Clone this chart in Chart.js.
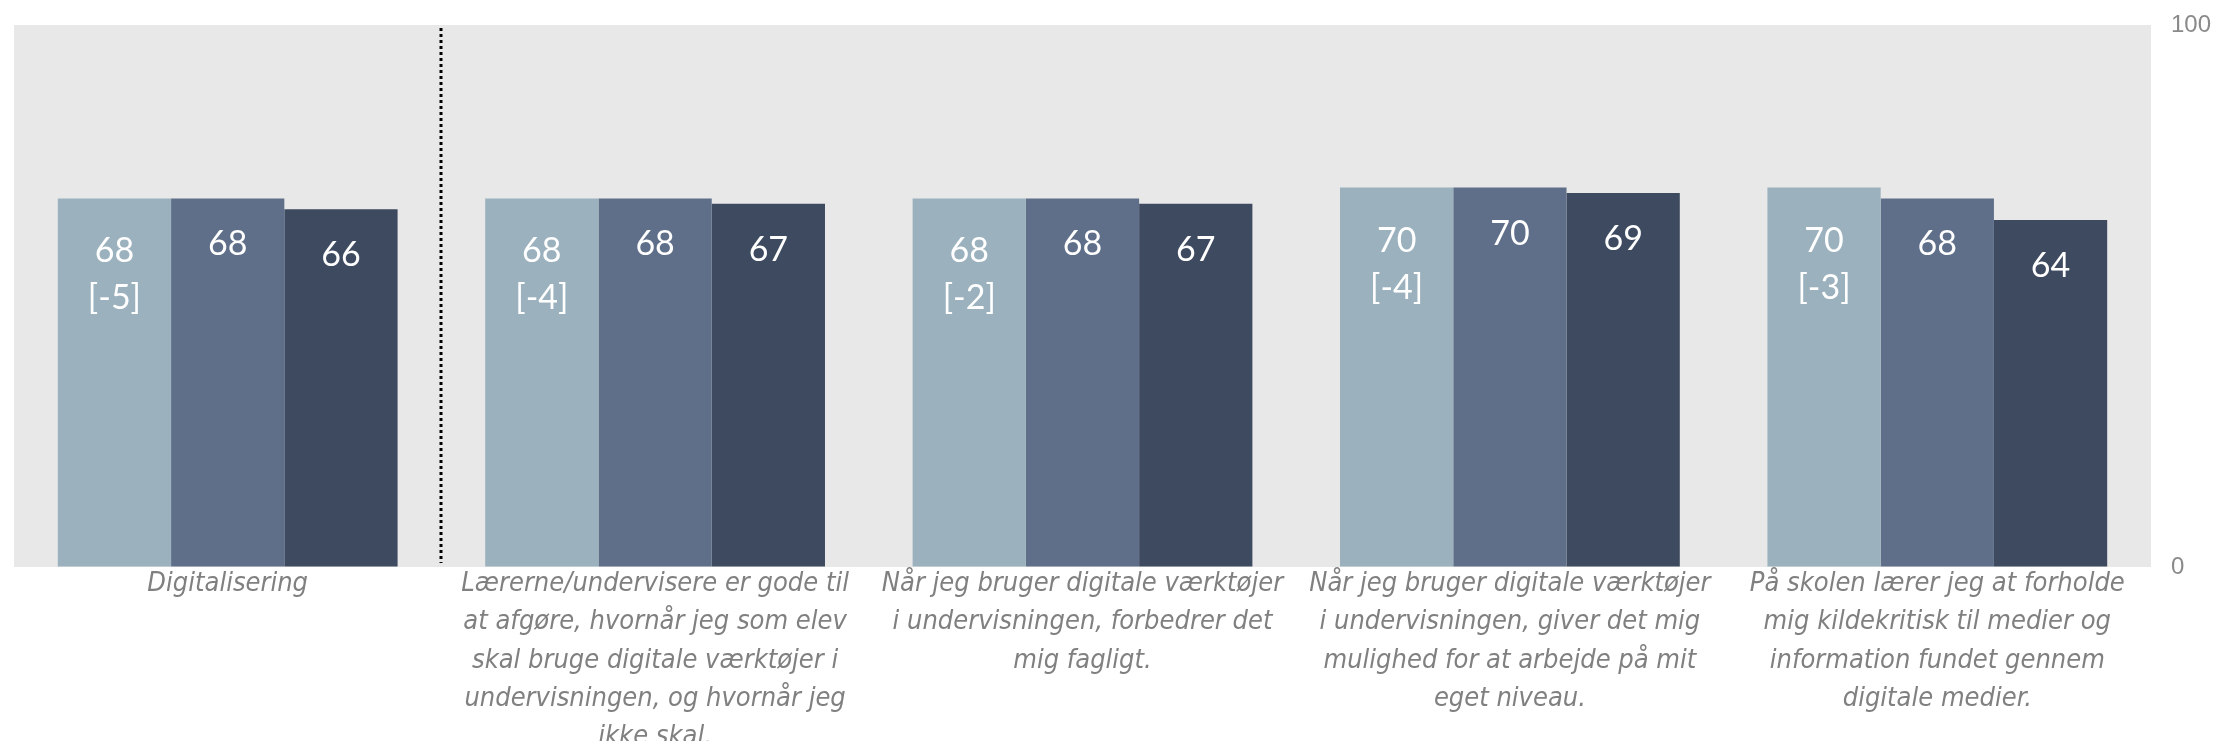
<!DOCTYPE html>
<html lang="da">
<head>
<meta charset="utf-8">
<script src="https://cdn.jsdelivr.net/npm/chart.js@4/dist/chart.umd.min.js"></script>
<style>
  html, body { margin: 0; padding: 0; background: #fff; }
  #wrap { width: 2216px; height: 741px; }
</style>
</head>
<body>
<div id="wrap"><canvas id="bar-chart"></canvas></div>
<script>
// Kategorier (spørgsmål), delt op i linjer
const kategorier = [
    ['Digitalisering'],
    ['Lærerne/undervisere er gode til', 'at afgøre, hvornår jeg som elev', 'skal bruge digitale værktøjer i', 'undervisningen, og hvornår jeg', 'ikke skal.'],
    ['Når jeg bruger digitale værktøjer', 'i undervisningen, forbedrer det', 'mig fagligt.'],
    ['Når jeg bruger digitale værktøjer', 'i undervisningen, giver det mig', 'mulighed for at arbejde på mit', 'eget niveau.'],
    ['På skolen lærer jeg at forholde', 'mig kildekritisk til medier og', 'information fundet gennem', 'digitale medier.']
];

const serie1 = [68, 68, 68, 70, 70];
const serie2 = [68, 68, 68, 70, 68];
const serie3 = [66, 67, 67, 69, 64];
const forskel = [-5, -4, -2, -4, -3];   // vises under første søjle

const yTicks = [0, 100];

const farver = ['#9bb2be', '#5f6f8a', '#3d4a5f'];

// Grå baggrund og stiplet skillelinje efter første kategori
const baggrund = {
    id: 'baggrund',
    beforeDatasetsDraw(chart) {
        const { ctx, chartArea: a, scales } = chart;
        ctx.save();
        ctx.fillStyle = '#e8e8e8';
        ctx.fillRect(a.left, a.top, a.right - a.left, a.bottom - a.top);
        const x = Math.round((scales.x.getPixelForValue(0) + scales.x.getPixelForValue(1)) / 2);
        ctx.strokeStyle = '#000';
        ctx.lineWidth = 3;
        ctx.setLineDash([3, 3]);
        ctx.beginPath();
        ctx.moveTo(x, a.top + 3);
        ctx.lineTo(x, a.bottom - 4);
        ctx.stroke();
        ctx.restore();
    }
};

// Værdier skrevet inde i søjlerne
const vaerdier = {
    id: 'vaerdier',
    afterDatasetsDraw(chart) {
        const ctx = chart.ctx;
        ctx.save();
        ctx.fillStyle = '#ffffff';
        ctx.font = '34px Lato, sans-serif';
        ctx.textAlign = 'center';
        ctx.textBaseline = 'middle';
        chart.data.datasets.forEach((ds, i) => {
            chart.getDatasetMeta(i).data.forEach((bar, j) => {
                if (i === 0) {
                    ctx.fillText(ds.data[j], bar.x, bar.y + 53);
                    ctx.fillText('[' + forskel[j] + ']', bar.x, bar.y + 100);
                } else {
                    ctx.fillText(ds.data[j], bar.x, bar.y + 46);
                }
            });
        });
        ctx.restore();
    }
};

const ctx = document.getElementById('bar-chart').getContext('2d');
new Chart(ctx, {
    type: 'bar',
    data: {
        labels: kategorier,
        datasets: [
            { label: 'Serie 1', data: serie1, backgroundColor: farver[0] },
            { label: 'Serie 2', data: serie2, backgroundColor: farver[1] },
            { label: 'Serie 3', data: serie3, backgroundColor: farver[2] }
        ]
    },
    options: {
        responsive: true,
        maintainAspectRatio: false,
        animation: false,
        layout: { padding: { left: 14, top: 25, right: 0, bottom: 0 } },
        datasets: {
            bar: { categoryPercentage: 0.795, barPercentage: 1 }
        },
        plugins: {
            legend: { display: false },
            tooltip: { enabled: false }
        },
        scales: {
            x: {
                grid: { display: false, drawTicks: false },
                border: { display: false },
                ticks: {
                    color: '#808080',
                    padding: -2,
                    maxRotation: 0,
                    autoSkip: false,
                    font: { family: "'DejaVu Sans Condensed', sans-serif", style: 'italic', size: 27, lineHeight: 1.415 }
                },
                afterFit(scale) { scale.height = 174; }
            },
            y: {
                position: 'right',
                min: 0,
                max: 100,
                // usynlige tick-streger giver afstand til tallene
                grid: { display: true, drawOnChartArea: false, drawTicks: true, tickLength: 20, color: 'rgba(0,0,0,0)' },
                border: { display: false },
                afterBuildTicks(scale) { scale.ticks = yTicks.map(v => ({ value: v })); },
                ticks: {
                    color: '#8a8a8a',
                    padding: 0,
                    font: { family: "'Liberation Sans', Arial, sans-serif", size: 24 }
                },
                afterFit(scale) { scale.width = 65; }
            }
        }
    },
    plugins: [baggrund, vaerdier]
});
</script>
</body>
</html>
